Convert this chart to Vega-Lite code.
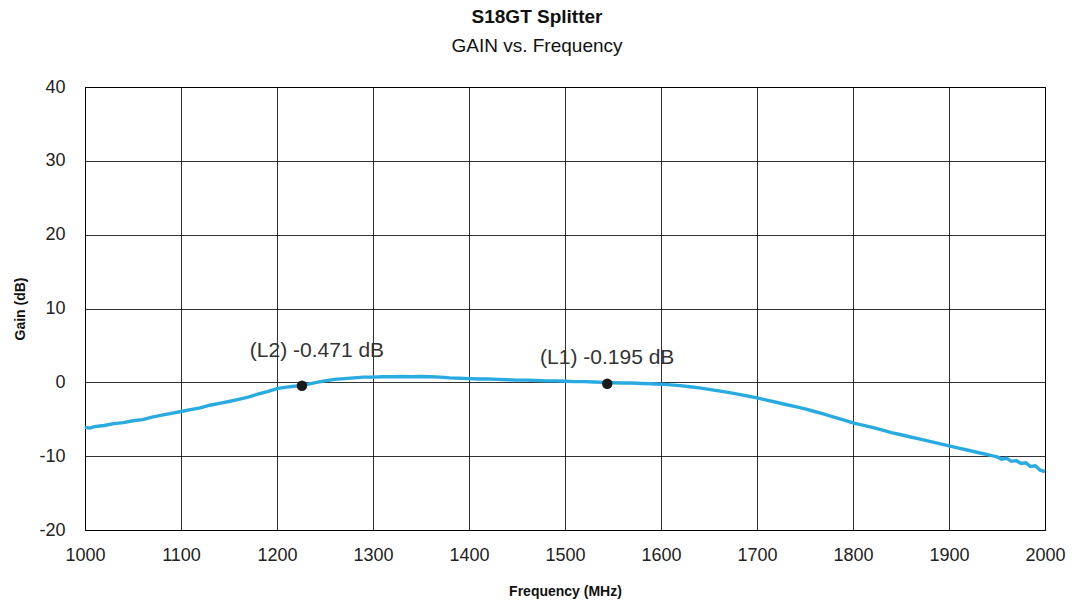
{
  "$schema": "https://vega.github.io/schema/vega-lite/v6.json",
  "width": 960,
  "height": 443,
  "autosize": {"type": "none"},
  "padding": {"left": 85, "top": 87, "right": 29, "bottom": 77},
  "background": "white",
  "title": {
    "text": "S18GT Splitter",
    "subtitle": "GAIN  vs. Frequency",
    "font": "Liberation Sans",
    "fontSize": 19,
    "fontWeight": "bold",
    "color": "#111",
    "subtitleFont": "Liberation Sans",
    "subtitleFontSize": 19,
    "subtitleColor": "#111",
    "subtitlePadding": 10,
    "anchor": "middle",
    "frame": "group",
    "dx": -28,
    "offset": 22
  },
  "config": {
    "view": {"stroke": "#000", "strokeWidth": 1},
    "axis": {
      "labelFont": "Liberation Sans",
      "labelFontSize": 18,
      "labelColor": "#222",
      "titleFont": "Liberation Sans",
      "titleFontSize": 14,
      "titleFontWeight": "bold",
      "titleColor": "#111",
      "gridColor": "#000",
      "gridOpacity": 0.8,
      "gridWidth": 1,
      "domain": false,
      "ticks": false
    }
  },
  "datasets": {
    "curve": [
      {"f": 1000, "gain": -6.1}, {"f": 1005, "gain": -6.2}, {"f": 1010, "gain": -6.0}, {"f": 1020, "gain": -5.85},
      {"f": 1030, "gain": -5.6}, {"f": 1040, "gain": -5.45}, {"f": 1050, "gain": -5.2},
      {"f": 1060, "gain": -5.05}, {"f": 1070, "gain": -4.7}, {"f": 1080, "gain": -4.45},
      {"f": 1090, "gain": -4.2}, {"f": 1100, "gain": -3.95}, {"f": 1110, "gain": -3.7},
      {"f": 1120, "gain": -3.45}, {"f": 1130, "gain": -3.1}, {"f": 1140, "gain": -2.85},
      {"f": 1150, "gain": -2.6}, {"f": 1160, "gain": -2.3}, {"f": 1170, "gain": -2.0},
      {"f": 1180, "gain": -1.6}, {"f": 1190, "gain": -1.25}, {"f": 1200, "gain": -0.85},
      {"f": 1210, "gain": -0.65}, {"f": 1220, "gain": -0.5}, {"f": 1230, "gain": -0.3},
      {"f": 1240, "gain": -0.05}, {"f": 1250, "gain": 0.2}, {"f": 1260, "gain": 0.4},
      {"f": 1270, "gain": 0.5}, {"f": 1280, "gain": 0.6}, {"f": 1290, "gain": 0.7},
      {"f": 1300, "gain": 0.7}, {"f": 1310, "gain": 0.75}, {"f": 1320, "gain": 0.75},
      {"f": 1330, "gain": 0.8}, {"f": 1340, "gain": 0.75}, {"f": 1350, "gain": 0.8},
      {"f": 1360, "gain": 0.75}, {"f": 1370, "gain": 0.7}, {"f": 1380, "gain": 0.6},
      {"f": 1390, "gain": 0.55}, {"f": 1400, "gain": 0.5}, {"f": 1410, "gain": 0.45},
      {"f": 1420, "gain": 0.45}, {"f": 1430, "gain": 0.4}, {"f": 1440, "gain": 0.35},
      {"f": 1450, "gain": 0.3}, {"f": 1460, "gain": 0.3}, {"f": 1470, "gain": 0.25},
      {"f": 1480, "gain": 0.2}, {"f": 1490, "gain": 0.2}, {"f": 1500, "gain": 0.15},
      {"f": 1510, "gain": 0.1}, {"f": 1520, "gain": 0.1}, {"f": 1530, "gain": 0.05},
      {"f": 1540, "gain": 0.0}, {"f": 1550, "gain": -0.05}, {"f": 1560, "gain": -0.1},
      {"f": 1570, "gain": -0.1}, {"f": 1580, "gain": -0.15}, {"f": 1590, "gain": -0.2},
      {"f": 1600, "gain": -0.25}, {"f": 1610, "gain": -0.35}, {"f": 1620, "gain": -0.45},
      {"f": 1630, "gain": -0.6}, {"f": 1640, "gain": -0.75}, {"f": 1650, "gain": -0.95},
      {"f": 1660, "gain": -1.15}, {"f": 1670, "gain": -1.35}, {"f": 1680, "gain": -1.6},
      {"f": 1690, "gain": -1.85}, {"f": 1700, "gain": -2.1}, {"f": 1710, "gain": -2.4},
      {"f": 1720, "gain": -2.7}, {"f": 1730, "gain": -3.0}, {"f": 1740, "gain": -3.3},
      {"f": 1750, "gain": -3.6}, {"f": 1760, "gain": -3.95}, {"f": 1770, "gain": -4.3},
      {"f": 1780, "gain": -4.7}, {"f": 1790, "gain": -5.1}, {"f": 1800, "gain": -5.5},
      {"f": 1810, "gain": -5.8}, {"f": 1820, "gain": -6.1}, {"f": 1830, "gain": -6.45},
      {"f": 1840, "gain": -6.8}, {"f": 1850, "gain": -7.1}, {"f": 1860, "gain": -7.4},
      {"f": 1870, "gain": -7.7}, {"f": 1880, "gain": -8.0}, {"f": 1890, "gain": -8.3},
      {"f": 1900, "gain": -8.6}, {"f": 1910, "gain": -8.9}, {"f": 1920, "gain": -9.2},
      {"f": 1930, "gain": -9.5}, {"f": 1940, "gain": -9.8}, {"f": 1950, "gain": -10.1},
      {"f": 1955, "gain": -10.4}, {"f": 1960, "gain": -10.3}, {"f": 1965, "gain": -10.7},
      {"f": 1970, "gain": -10.6}, {"f": 1975, "gain": -11.0}, {"f": 1980, "gain": -10.9},
      {"f": 1985, "gain": -11.4}, {"f": 1990, "gain": -11.3}, {"f": 1995, "gain": -11.9},
      {"f": 2000, "gain": -12.1}
    ],
    "markers": [
      {"f": 1226, "gain": -0.471, "marker": "L2", "label": "(L2) -0.471 dB"},
      {"f": 1544, "gain": -0.195, "marker": "L1", "label": "(L1) -0.195 dB"}
    ]
  },
  "encoding": {
    "x": {
      "field": "f", "type": "quantitative",
      "scale": {"domain": [1000, 2000], "nice": false},
      "axis": {"values": [1000,1100,1200,1300,1400,1500,1600,1700,1800,1900,2000], "labelExpr": "'' + datum.value", "labelPadding": 16, "title": "Frequency (MHz)", "titlePadding": 20, "labelFlush": false}
    },
    "y": {
      "field": "gain", "type": "quantitative",
      "scale": {"domain": [-20, 40], "nice": false},
      "axis": {"values": [-20,-10,0,10,20,30,40], "labelExpr": "'' + datum.value", "labelPadding": 20, "title": "Gain (dB)", "titlePadding": 11, "labelFlush": false}
    }
  },
  "layer": [
    {
      "data": {"name": "curve"},
      "mark": {"type": "line", "color": "#29ABE2", "strokeWidth": 3.4, "interpolate": "linear"}
    },
    {
      "data": {"name": "markers"},
      "mark": {"type": "point", "filled": true, "color": "#1a1a1a", "size": 110, "opacity": 1}
    },
    {
      "data": {"name": "markers"},
      "transform": [{"filter": "datum.marker == 'L2'"}],
      "mark": {"type": "text", "font": "Liberation Sans", "fontSize": 21, "color": "#333", "dx": 15, "dy": -35},
      "encoding": {"text": {"field": "label"}}
    },
    {
      "data": {"name": "markers"},
      "transform": [{"filter": "datum.marker == 'L1'"}],
      "mark": {"type": "text", "font": "Liberation Sans", "fontSize": 21, "color": "#333", "dx": 0, "dy": -26},
      "encoding": {"text": {"field": "label"}}
    }
  ]
}
